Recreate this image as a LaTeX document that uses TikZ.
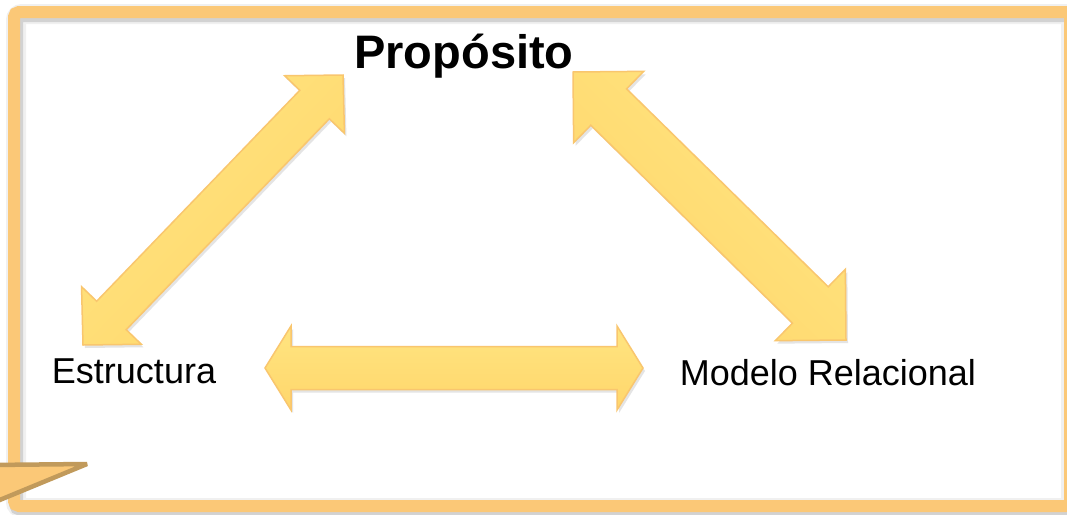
\documentclass[tikz,border=0pt]{standalone}
\usepackage{fontspec}
\setmainfont{Liberation Sans}
\usetikzlibrary{calc,shadows}

\definecolor{frameorange}{HTML}{FBC877}
\definecolor{tailbrown}{HTML}{C19A5B}
\definecolor{arrowedge}{HTML}{F9C66E}
\definecolor{arrowlight}{HTML}{FFEA8A}
\definecolor{arrowmid}{HTML}{FFE581}
\definecolor{arrowdark}{HTML}{FFD66B}

% Double-headed block arrow between two named tips:
% #1,#2 tips, #3 half shaft width, #4 half head width, #5 head length, #6 shading angle
\newcommand\blockarrow[6]{%
  \path[barrow, shading angle=#6]
    (#1)
    -- ($(#1)!#5!(#2)!#4!90:(#2)$)
    -- ($(#1)!#5!(#2)!#3!90:(#2)$)
    -- ($(#2)!#5!(#1)!#3!-90:(#1)$)
    -- ($(#2)!#5!(#1)!#4!-90:(#1)$)
    -- (#2)
    -- ($(#2)!#5!(#1)!#4!90:(#1)$)
    -- ($(#2)!#5!(#1)!#3!90:(#1)$)
    -- ($(#1)!#5!(#2)!#3!-90:(#2)$)
    -- ($(#1)!#5!(#2)!#4!-90:(#2)$)
    -- cycle;}

\begin{document}
\begin{tikzpicture}[x=1pt,y=-1pt,
  barrow/.style={draw=arrowedge, line width=1.5pt, line join=miter,
    top color=arrowmid, middle color=arrowlight, bottom color=arrowdark,
    drop shadow={shadow xshift=2pt, shadow yshift=-3pt, opacity=0.15, fill=black!70}},
  framebar/.style={draw=frameorange, line width=12pt, rounded corners=5pt},
  labeltext/.style={font=\fontsize{36}{40}\selectfont, text=black, inner sep=0pt},
  titletext/.style={font=\fontsize{47}{52}\selectfont\bfseries, text=black, inner sep=0pt}]

\useasboundingbox (0,0) rectangle (1067,514);
\clip (0,0) rectangle (1067,514);
\fill[white] (0,0) rectangle (1067,514);

% soft shadow of the frame
\draw[black, opacity=0.06, line width=20pt, rounded corners=6pt] (16,14) rectangle (1071,508);
\draw[black, opacity=0.12, line width=14pt, rounded corners=5pt] (16,15) rectangle (1072,509);

% frame
\draw[framebar] (14,12) rectangle (1070,506);

% callout tail
\filldraw[fill=frameorange, draw=tailbrown, line width=4.5pt, line join=bevel]
  (-10,465) -- (87,464) -- (-10,504) -- cycle;

% labels
\node[titletext, anchor=base] (prop) at (464,68) {Propósito};
\node[labeltext, anchor=base] (estr) at (134,383) {Estructura};
\node[labeltext, anchor=base] (modelo) at (828,385) {Modelo Relacional};

% arrow tips
\coordinate (L1) at (83,345);
\coordinate (L2) at (343,75);
\coordinate (R1) at (573,72);
\coordinate (R2) at (846,340);
\coordinate (H1) at (265,368);
\coordinate (H2) at (643,368);

% block arrows
\blockarrow{L1}{L2}{20.5pt}{41.5pt}{41pt}{46}
\blockarrow{R1}{R2}{25.5pt}{50pt}{50pt}{-44.5}
\blockarrow{H1}{H2}{21.5pt}{42pt}{26pt}{0}

\end{tikzpicture}
\end{document}
